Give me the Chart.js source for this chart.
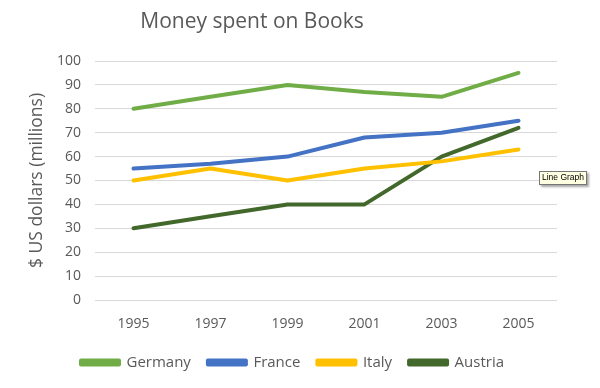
<!DOCTYPE html>
<html>
<head>
<meta charset="utf-8">
<script src="https://cdn.jsdelivr.net/npm/chart.js@4/dist/chart.umd.min.js"></script>
<style>
  html, body { margin: 0; padding: 0; background: #fff; }
  #wrap { position: relative; width: 600px; height: 388px; }
  #title { position: absolute; left: 0; width: 504px; top: 6px; text-align: center;
           font: 21px "Open Sans", sans-serif; color: #595959; line-height: 28px; }
  #tip { position: absolute; left: 539px; top: 171px; padding: 0 2px; height: 12px; line-height: 12px;
         font: 8.5px "Liberation Sans", sans-serif; color: #000; background: #ffffe1;
         border: 1px solid #767676; box-shadow: 2px 2px 2px rgba(0,0,0,0.35); white-space: nowrap; }
</style>
</head>
<body>
<div id="wrap">
  <canvas id="c" width="600" height="388"></canvas>
  <div id="title">Money spent on Books</div>
  <div id="tip">Line Graph</div>
</div>
<script>
const categories = ["1995", "1997", "1999", "2001", "2003", "2005"];
const germany = [80, 85, 90, 87, 85, 95];
const france  = [55, 57, 60, 68, 70, 75];
const italy   = [50, 55, 50, 55, 58, 63];
const austria = [30, 35, 40, 40, 60, 72];
const yTicks  = [0, 10, 20, 30, 40, 50, 60, 70, 80, 90, 100];

const FONT = "'Open Sans', sans-serif";
const GREY = "#595959";

function ds(label, data, color) {
  return { label, data, borderColor: color, backgroundColor: color, borderWidth: 4,
           pointRadius: 0, pointHoverRadius: 0, tension: 0, borderCapStyle: "round", borderJoinStyle: "round" };
}

const shiftLegend = {
  id: "shiftLegend",
  afterLayout(chart) {
    const lg = chart.legend;
    if (lg) { lg.left += 9; lg.right += 9; }
  }
};

new Chart(document.getElementById("c"), {
  type: "line",
  data: {
    labels: categories,
    datasets: [
      ds("Germany", germany, "#70AD47"),
      ds("France", france, "#4472C4"),
      ds("Italy", italy, "#FFC000"),
      ds("Austria", austria, "#43682B")
    ]
  },
  plugins: [shiftLegend],
  options: {
    responsive: false,
    animation: false,
    layout: { padding: { left: 10, right: 43, top: 61, bottom: 8 } },
    plugins: {
      tooltip: { enabled: false },
      title: { display: false },
      legend: {
        position: "bottom",
        labels: { color: GREY, font: { family: FONT, size: 15 }, boxWidth: 38, boxHeight: 4, padding: 17 }
      }
    },
    scales: {
      x: {
        offset: true,
        grid: { display: false, drawTicks: false },
        border: { display: false },
        ticks: { color: GREY, font: { family: FONT, size: 14 }, padding: 16 },
        afterFit: s => { s.height = 38; }
      },
      y: {
        min: 0, max: 100,
        afterBuildTicks: s => { s.ticks = yTicks.map(v => ({ value: v })); },
        grid: { color: "#d9d9d9", lineWidth: 1, drawTicks: false },
        border: { display: false },
        ticks: { color: GREY, font: { family: FONT, size: 14 }, padding: 14 },
        title: { display: true, text: "$ US dollars (millions)", color: GREY, font: { family: FONT, size: 17.5 }, padding: { top: 17, bottom: 0 } },
        afterFit: s => { s.width = 85; }
      }
    }
  }
});
</script>
</body>
</html>
